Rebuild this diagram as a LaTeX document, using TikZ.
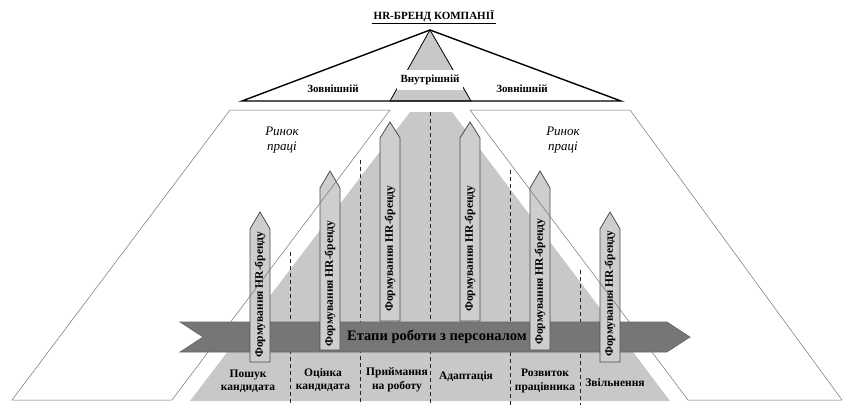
\documentclass[tikz,border=0pt]{standalone}
\usepackage{fontspec}
\setmainfont{Liberation Serif}
\usetikzlibrary{calc}
\definecolor{pyrgray}{RGB}{200,200,200}
\definecolor{pengray}{RGB}{206,206,206}
\definecolor{bandgray}{RGB}{118,118,118}

\begin{document}
\begin{tikzpicture}[x=1pt,y=-1pt,
  pencil/.style={fill=pengray,draw=black!70,line width=.8pt},
  pentext/.style={rotate=90,anchor=west,inner sep=0pt,
    font=\fontsize{11.5}{12}\selectfont\bfseries},
  stage/.style={align=center,font=\fontsize{11.5}{13.5}\selectfont\bfseries},
  market/.style={align=center,font=\fontsize{13}{15}\selectfont\itshape},
  side/.style={font=\fontsize{11}{12}\selectfont\bfseries},
  border/.style={dash pattern=on 4pt off 3pt,black!85,line width=.6pt},
  mline/.style={black!55,line width=.5pt},
  ]
  \useasboundingbox (0,0) rectangle (842,405);

  % brand triangle
  \node[font=\fontsize{11}{12}\selectfont\bfseries,inner sep=1.5pt] (title) at (434,16) {HR-БРЕНД КОМПАНІЇ};
  \draw[line width=.8pt] (title.south west) -- (title.south east);
  \fill[pyrgray,draw=black,line width=.8pt] (430,30) -- (390,101) -- (471,101) -- cycle;
  \draw[line width=1.4pt,line join=miter] (430,30) -- (242,101) -- (621,101) -- cycle;
  \node[side,fill=white,inner xsep=4pt,minimum height=20pt] (inner) at (430,80) {Внутрішній};
  \node[side] (outl) at (333,89) {Зовнішній};
  \node[side] (outr) at (522,89) {Зовнішній};

  % staff pyramid
  \fill[pyrgray] (410,112) -- (452,112) -- (670,401) -- (190,401) -- cycle;
  \foreach \x/\t in {290/252,360/160,430/112,510/170,580/270}
    \draw[border] (\x,\t) -- (\x,405);

  % pencils behind the band
  \foreach \n/\x/\t/\b/\o in {3/390/122/321/9,4/470/122/321/9}{
    \draw[pencil] (\x-10,\b) -- (\x-10,\t+16) -- (\x,\t) -- (\x+10,\t+16) -- (\x+10,\b) -- cycle;
    \node[pentext] (pen\n) at (\x,\b-\o) {Формування HR-бренду};
  }

  \draw[fill=bandgray,draw=black!60,line width=.6pt]
    (180,322) -- (667,322) -- (690,337) -- (667,352) -- (180,352) -- (203,337) -- cycle;
  \node[font=\fontsize{14.5}{16}\selectfont\bfseries] (band) at (437,337) {Етапи роботи з персоналом};

  % pencils over the band
  \foreach \n/\x/\t/\b/\o in {1/260/212/362/4,2/330/171/350/3,5/540/171/350/5,6/610/212/362/5}{
    \draw[pencil] (\x-10,\b) -- (\x-10,\t+17) -- (\x,\t) -- (\x+10,\t+17) -- (\x+10,\b) -- cycle;
    \node[pentext] (pen\n) at (\x,\b-\o) {Формування HR-бренду};
  }

  % labour market
  \draw[mline] (230,110) -- (390,110) -- (172,400) -- (12,400) -- cycle;
  \draw[mline] (470,110) -- (630,110) -- (842,400) -- (688,400) -- cycle;
  \node[market] (mkl) at (282,140) {Ринок\\праці};
  \node[market] (mkr) at (563,140) {Ринок\\праці};

  % stages
  \node[stage] (s1) at (248,381) {Пошук\\кандидата};
  \node[stage] (s2) at (323,380) {Оцінка\\кандидата};
  \node[stage] (s3) at (397,380) {Приймання\\на роботу};
  \node[stage] (s4) at (466,377) {Адаптація};
  \node[stage] (s5) at (545,381) {Розвиток\\працівника};
  \node[stage] (s6) at (615,383) {Звільнення};
\end{tikzpicture}
\end{document}
